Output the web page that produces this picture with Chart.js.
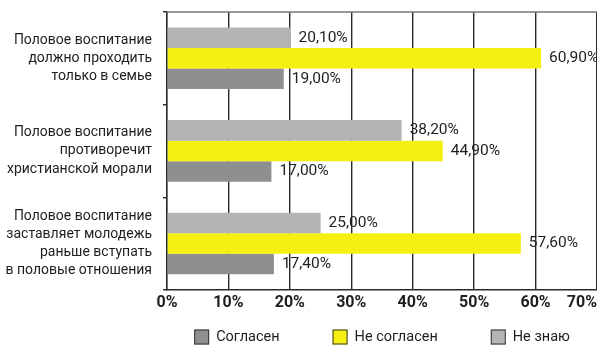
<!DOCTYPE html>
<html>
<head>
<meta charset="utf-8">
<script src="https://cdn.jsdelivr.net/npm/chart.js"></script>
<style>
  html, body { margin: 0; padding: 0; background: #fff; }
  #wrap { width: 597px; height: 346px; }
</style>
</head>
<body>
<div id="wrap"><canvas id="barChart"></canvas></div>
<script>
  // survey answers, percent
  var categories = [
    ['Половое воспитание', 'должно проходить', 'только в семье'],
    ['Половое воспитание', 'противоречит', 'христианской морали'],
    ['Половое воспитание', 'заставляет молодежь', 'раньше вступать', 'в половые отношения']
  ];
  var seriesNames = ['Не знаю', 'Не согласен', 'Согласен'];
  var dontKnow = [20.1, 38.2, 25.0];
  var disagree = [60.9, 44.9, 57.6];
  var agree = [19.0, 17.0, 17.4];
  var tickLabels = ['0%', '10%', '20%', '30%', '40%', '50%', '60%', '70%'];

  var FONT = "Roboto, 'Liberation Sans', sans-serif";
  var TEXT = '#1e1e1e';
  var colors = ['#b4b4b4', '#f5f010', '#8f8f8f'];

  Chart.defaults.font.family = FONT;
  Chart.defaults.color = TEXT;

  function fmt(v) {
    return v.toFixed(2).replace('.', ',') + '%';
  }

  // values to the right of each bar
  var valueLabels = {
    id: 'valueLabels',
    afterDatasetsDraw: function(chart) {
      var ctx = chart.ctx;
      ctx.save();
      ctx.font = '15.5px ' + FONT;
      ctx.fillStyle = TEXT;
      ctx.textBaseline = 'middle';
      ctx.textAlign = 'left';
      chart.data.datasets.forEach(function(ds, i) {
        chart.getDatasetMeta(i).data.forEach(function(bar, j) {
          ctx.fillText(fmt(ds.data[j]), bar.x + 8, bar.y);
        });
      });
      ctx.restore();
    }
  };

  // top frame line, last x tick label (right aligned) and the legend
  var extras = {
    id: 'extras',
    afterDraw: function(chart) {
      var ctx = chart.ctx;
      var area = chart.chartArea;
      var sx = chart.scales.x;
      ctx.save();

      ctx.strokeStyle = '#777';
      ctx.lineWidth = 1.5;
      ctx.beginPath();
      ctx.moveTo(area.left, area.top);
      ctx.lineTo(area.right, area.top);
      ctx.stroke();

      var tf = sx.options.ticks.font;
      ctx.font = 'bold ' + tf.size + 'px ' + FONT;
      ctx.fillStyle = TEXT;
      ctx.textAlign = 'right';
      ctx.textBaseline = 'middle';
      ctx.fillText(tickLabels[tickLabels.length - 1], area.right, sx.top + sx.options.ticks.padding + tf.size * 1.2 / 2);

      // legend: reversed dataset order
      ctx.font = '14.5px ' + FONT;
      ctx.textAlign = 'left';
      var box = 15, gap = 7, spacing = 53;
      var items = chart.data.datasets.slice().reverse();
      var widths = items.map(function(ds) { return box + gap + ctx.measureText(ds.label).width; });
      var total = widths.reduce(function(a, b) { return a + b; }, 0) + spacing * (items.length - 1);
      var x = (area.left + area.right) / 2 - total / 2;
      var cy = chart.height - 9;
      items.forEach(function(ds, i) {
        ctx.fillStyle = ds.backgroundColor;
        ctx.fillRect(x, cy - box / 2, box, box);
        ctx.strokeStyle = '#333';
        ctx.lineWidth = 1;
        ctx.strokeRect(x + 0.5, cy - box / 2 + 0.5, box - 1, box - 1);
        ctx.fillStyle = TEXT;
        ctx.fillText(ds.label, x + box + gap, cy);
        x += widths[i] + spacing;
      });
      ctx.restore();
    }
  };

  var ctx = document.getElementById('barChart').getContext('2d');
  new Chart(ctx, {
    type: 'bar',
    data: {
      labels: categories,
      datasets: [
        { label: seriesNames[0], data: dontKnow, backgroundColor: colors[0] },
        { label: seriesNames[1], data: disagree, backgroundColor: colors[1] },
        { label: seriesNames[2], data: agree, backgroundColor: colors[2] }
      ]
    },
    options: {
      indexAxis: 'y',
      responsive: true,
      maintainAspectRatio: false,
      animation: false,
      layout: { padding: { top: 12, right: 0, bottom: 29, left: 0 } },
      datasets: { bar: { categoryPercentage: 0.665, barPercentage: 1.0 } },
      plugins: {
        legend: { display: false },
        tooltip: { enabled: false }
      },
      scales: {
        x: {
          min: 0,
          max: 70,
          ticks: {
            stepSize: 10,
            padding: 4,
            font: { size: 16, weight: 'bold' },
            color: TEXT,
            maxRotation: 0,
            callback: function(v, i) {
              return i === tickLabels.length - 1 ? '' : tickLabels[i];
            }
          },
          grid: { color: '#2a2a2a', lineWidth: 1.4, drawTicks: false },
          border: { color: '#2a2a2a', width: 1.4 },
          afterFit: function(s) { s.paddingRight = 0; }
        },
        y: {
          ticks: {
            font: { size: 14, lineHeight: 1.3 },
            color: TEXT,
            padding: 11
          },
          grid: { drawOnChartArea: false, color: '#2a2a2a', tickLength: 4, lineWidth: 1.4 },
          border: { color: '#2a2a2a', width: 1.4 },
          afterFit: function(s) {
            s.width = 167;
            s.paddingTop = 0;
            s.paddingBottom = 0;
          }
        }
      }
    },
    plugins: [valueLabels, extras]
  });
</script>
</body>
</html>
